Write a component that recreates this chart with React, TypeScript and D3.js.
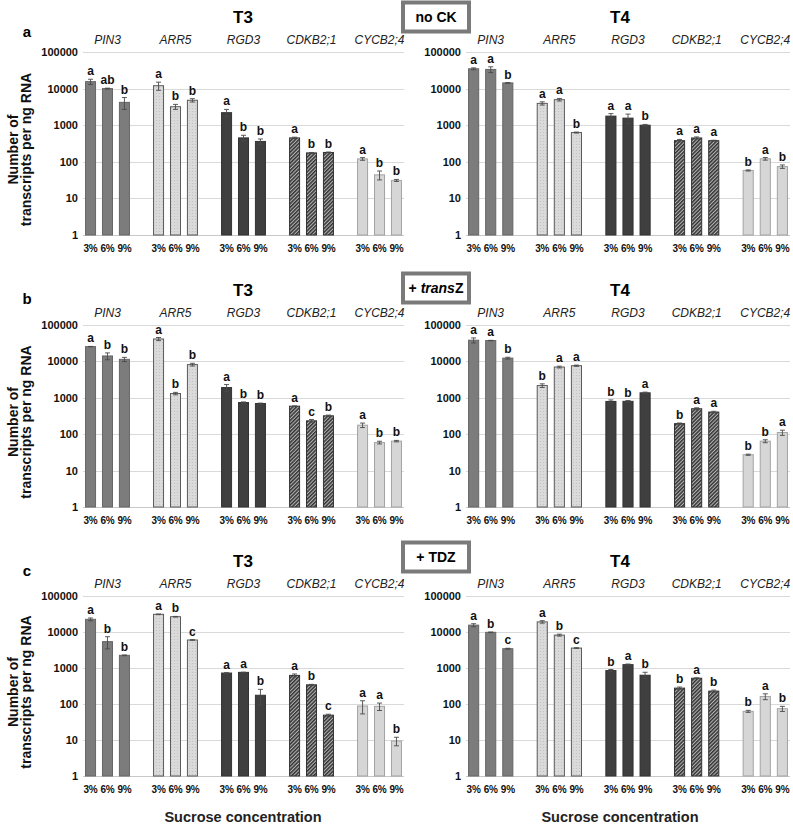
import { useEffect, useRef } from 'react'
import * as d3 from 'd3'

const genes = ['PIN3', 'ARR5', 'RGD3', 'CDKB2;1', 'CYCB2;4']
const sucrose = ['3%', '6%', '9%']
const yTicks = [1, 10, 100, 1000, 10000, 100000]
const stages = ['T3', 'T4']
const rowLetters = ['a', 'b', 'c']
const treatments = ['no CK', '+ transZ', '+ TDZ']

// values per panel, genes x sucrose (flattened)
const noCkT3 = [15500, 10000, 4200, 12000, 3200, 4800, 2200, 450, 360, 450, 175, 180, 120, 44, 31]
const noCkT3Err = [2500, 300, 1500, 3000, 500, 500, 500, 80, 60, 20, 5, 5, 10, 12, 2]
const noCkT3Sig = ['a', 'ab', 'b', 'a', 'b', 'b', 'a', 'b', 'b', 'a', 'b', 'b', 'a', 'b', 'b']

const noCkT4 = [34800, 33400, 14300, 3950, 4980, 630, 1770, 1560, 1000, 378, 448, 378, 58, 121, 74]
const noCkT4Err = [2000, 6000, 300, 400, 400, 20, 300, 450, 50, 30, 30, 10, 2, 10, 8]
const noCkT4Sig = ['a', 'a', 'b', 'a', 'a', 'b', 'a', 'a', 'b', 'a', 'a', 'a', 'b', 'a', 'b']

const transZT3 = [25500, 14100, 11400, 41300, 1310, 8170, 1910, 741, 696, 589, 233, 320, 177, 59, 64.5]
const transZT3Err = [300, 3000, 1500, 4000, 100, 700, 400, 30, 20, 10, 20, 15, 25, 5, 3]
const transZT3Sig = ['a', 'b', 'b', 'a', 'b', 'b', 'a', 'b', 'b', 'a', 'c', 'b', 'a', 'b', 'b']

const transZT4 = [38200, 37400, 12300, 2170, 7000, 7620, 794, 800, 1370, 195, 501, 406, 27.3, 64.4, 111]
const transZT4Err = [6000, 500, 700, 250, 400, 300, 80, 40, 60, 8, 30, 20, 1, 6, 18]
const transZT4Sig = ['a', 'a', 'b', 'b', 'a', 'a', 'b', 'b', 'a', 'b', 'a', 'a', 'b', 'b', 'a']

const tdzT3 = [22500, 5400, 2250, 31000, 26600, 6000, 724, 756, 175, 623, 341, 49, 88, 86, 9.4]
const tdzT3Err = [2000, 2000, 50, 500, 500, 100, 20, 10, 80, 60, 10, 3, 35, 20, 2.5]
const tdzT3Sig = ['a', 'b', 'b', 'a', 'b', 'c', 'a', 'a', 'b', 'a', 'b', 'c', 'a', 'a', 'b']

const tdzT4 = [15500, 9800, 3435, 19100, 8200, 3580, 848, 1240, 630, 276, 520, 228, 62.5, 162, 74]
const tdzT4Err = [1500, 200, 100, 1500, 500, 80, 60, 50, 130, 20, 15, 15, 4, 30, 12]
const tdzT4Sig = ['a', 'b', 'c', 'a', 'b', 'c', 'b', 'a', 'b', 'b', 'a', 'b', 'b', 'a', 'b']

const panelData = [
  [[noCkT3, noCkT3Err, noCkT3Sig], [noCkT4, noCkT4Err, noCkT4Sig]],
  [[transZT3, transZT3Err, transZT3Sig], [transZT4, transZT4Err, transZT4Sig]],
  [[tdzT3, tdzT3Err, tdzT3Sig], [tdzT4, tdzT4Err, tdzT4Sig]]
] as [number[], number[], string[]][][]

const W = 793
const H = 824
const FONT = "'Liberation Sans', Arial, sans-serif"

export default function App() {
  const svgRef = useRef<SVGSVGElement>(null)

  useEffect(() => {
    if (!svgRef.current) return
    const svg = d3.select(svgRef.current)
    svg.selectAll('*').remove()
    svg.style('font-family', FONT)

    // patterns
    const defs = svg.append('defs')
    const hatch = defs.append('pattern')
      .attr('id', 'hatch')
      .attr('patternUnits', 'userSpaceOnUse')
      .attr('width', 2.6).attr('height', 2.6)
      .attr('patternTransform', 'rotate(45)')
    hatch.append('rect').attr('width', 2.6).attr('height', 2.6).attr('fill', '#b4b4b4')
    hatch.append('rect').attr('width', 1.5).attr('height', 2.6).attr('fill', '#333')

    const dots = defs.append('pattern')
      .attr('id', 'dots')
      .attr('patternUnits', 'userSpaceOnUse')
      .attr('width', 3).attr('height', 3)
    dots.append('rect').attr('width', 3).attr('height', 3).attr('fill', '#dadada')
    dots.append('rect').attr('width', 1).attr('height', 1).attr('fill', '#c2c2c2')

    const geneFill = ['#7c7c7c', 'url(#dots)', '#3f3f3f', 'url(#hatch)', '#d6d6d6']
    const geneStroke = ['#666', '#5a5a5a', '#333', '#333', '#a3a3a3']

    const rowTop = [52, 325, 596]
    const rowBottom = [235, 507, 776]
    const panelX = [[83, 404], [466, 790]]
    const boxTop = [1, 272, 541]
    const letterY = [37, 304, 576]
    const titleX = [243, 620]

    rowTop.forEach((top, r) => {
      const bottom = rowBottom[r]
      const y = d3.scaleLog().domain([1, 100000]).range([bottom, top])

      // row letter
      svg.append('text')
        .attr('x', 27).attr('y', letterY[r])
        .attr('text-anchor', 'middle')
        .style('font-size', '15px').style('font-weight', 'bold')
        .text(rowLetters[r])

      // treatment box
      svg.append('rect')
        .attr('x', 403).attr('y', boxTop[r] + 1.5)
        .attr('width', 66).attr('height', 29)
        .attr('fill', '#fff').attr('stroke', '#7a7a7a').attr('stroke-width', 4)
      const bt = svg.append('text')
        .attr('x', 436).attr('y', boxTop[r] + 21)
        .attr('text-anchor', 'middle')
        .style('font-size', '14px').style('font-weight', 'bold')
      if (r === 1) {
        bt.append('tspan').text('+ ')
        bt.append('tspan').style('font-style', 'italic').text('trans')
        bt.append('tspan').text('Z')
      } else {
        bt.text(treatments[r])
      }

      // y-axis title
      const yt = svg.append('text')
        .attr('transform', `translate(0, ${(top + bottom) / 2 + 6}) rotate(-90)`)
        .attr('text-anchor', 'middle')
        .style('font-size', '14px').style('font-weight', 'bold')
        .style('fill', '#111')
      yt.append('tspan').attr('x', 0).attr('y', 18).text('Number of')
      yt.append('tspan').attr('x', 0).attr('y', 31).text('transcripts per ng RNA')

      stages.forEach((stage, p) => {
        const [x0, x1] = panelX[p]
        const [mean, err, sig] = panelData[r][p]
        const xg = d3.scaleBand().domain(genes).range([x0, x1]).paddingInner(0.34).paddingOuter(0.03)
        const xs = d3.scaleBand().domain(sucrose).range([0, xg.bandwidth()]).paddingInner(0.35)
        const g = svg.append('g')

        // stage title
        g.append('text')
          .attr('x', titleX[p]).attr('y', top - 29)
          .attr('text-anchor', 'middle')
          .style('font-size', '17px').style('font-weight', 'bold')
          .text(stage)

        // gridlines
        g.selectAll('.grid')
          .data(yTicks)
          .enter()
          .append('line')
          .attr('x1', x0).attr('x2', x1)
          .attr('y1', d => Math.round(y(d)) + 0.5)
          .attr('y2', d => Math.round(y(d)) + 0.5)
          .attr('stroke', d => d === 1 ? '#c8c8c8' : '#d9d9d9')
          .attr('stroke-width', 1)

        // y tick labels
        g.selectAll('.ytick')
          .data(yTicks)
          .enter()
          .append('text')
          .attr('x', x0 - 5).attr('y', d => y(d))
          .attr('dy', '0.36em')
          .attr('text-anchor', 'end')
          .style('font-size', '11px').style('font-weight', 'bold')
          .style('fill', '#111')
          .text(d => d3.format('d')(d))

        // gene labels
        g.selectAll('.gene')
          .data(genes)
          .enter()
          .append('text')
          .attr('x', d => (xg(d) || 0) + xg.bandwidth() / 2)
          .attr('y', top - 8)
          .attr('text-anchor', 'middle')
          .style('font-size', '12px').style('font-style', 'italic')
          .style('fill', '#222')
          .text(d => d)

        const bars = genes.flatMap((gene, gi) => sucrose.map((s, si) => ({
          gene, gi, s, v: mean[gi * 3 + si], e: err[gi * 3 + si], l: sig[gi * 3 + si]
        })))
        const bx = (d: any) => (xg(d.gene) || 0) + (xs(d.s) || 0)
        const bw = xs.bandwidth()

        g.selectAll('.bar')
          .data(bars)
          .enter()
          .append('rect')
          .attr('x', d => bx(d) + 0.5)
          .attr('y', d => y(d.v))
          .attr('width', bw - 1)
          .attr('height', d => y(1) - y(d.v))
          .attr('fill', d => geneFill[d.gi])
          .attr('stroke', d => geneStroke[d.gi])
          .attr('stroke-width', 1)

        // error bars
        const eb = g.selectAll('.err')
          .data(bars)
          .enter()
          .append('g')
          .attr('stroke', '#4a4a4a')
          .attr('stroke-width', 0.9)
        eb.append('line')
          .attr('x1', d => bx(d) + bw / 2).attr('x2', d => bx(d) + bw / 2)
          .attr('y1', d => y(d.v + d.e)).attr('y2', d => y(Math.max(d.v - d.e, 1.01)))
        eb.append('line')
          .attr('x1', d => bx(d) + bw / 2 - 2.5).attr('x2', d => bx(d) + bw / 2 + 2.5)
          .attr('y1', d => y(d.v + d.e)).attr('y2', d => y(d.v + d.e))
        eb.append('line')
          .attr('x1', d => bx(d) + bw / 2 - 2.5).attr('x2', d => bx(d) + bw / 2 + 2.5)
          .attr('y1', d => y(Math.max(d.v - d.e, 1.01))).attr('y2', d => y(Math.max(d.v - d.e, 1.01)))

        // significance letters
        g.selectAll('.sig')
          .data(bars)
          .enter()
          .append('text')
          .attr('x', d => bx(d) + bw / 2)
          .attr('y', d => y(d.v + d.e) - 4)
          .attr('text-anchor', 'middle')
          .style('font-size', '12px').style('font-weight', 'bold')
          .style('fill', '#111')
          .text(d => d.l)

        // x tick labels
        g.selectAll('.xtick')
          .data(bars)
          .enter()
          .append('text')
          .attr('x', d => bx(d) + bw / 2)
          .attr('y', bottom + 17)
          .attr('text-anchor', 'middle')
          .style('font-size', '10px').style('font-weight', 'bold')
          .style('letter-spacing', '-0.2px')
          .style('fill', '#111')
          .text(d => d.s)

        if (r === 2) {
          g.append('text')
            .attr('x', titleX[p]).attr('y', 822)
            .attr('text-anchor', 'middle')
            .style('font-size', '14.5px').style('font-weight', 'bold')
            .style('fill', '#222')
            .text('Sucrose concentration')
        }
      })
    })
  }, [])

  return (
    <svg
      ref={svgRef}
      width={W}
      height={H}
      style={{ position: 'absolute', left: 0, top: 0, background: '#fff' }}
    />
  )
}
